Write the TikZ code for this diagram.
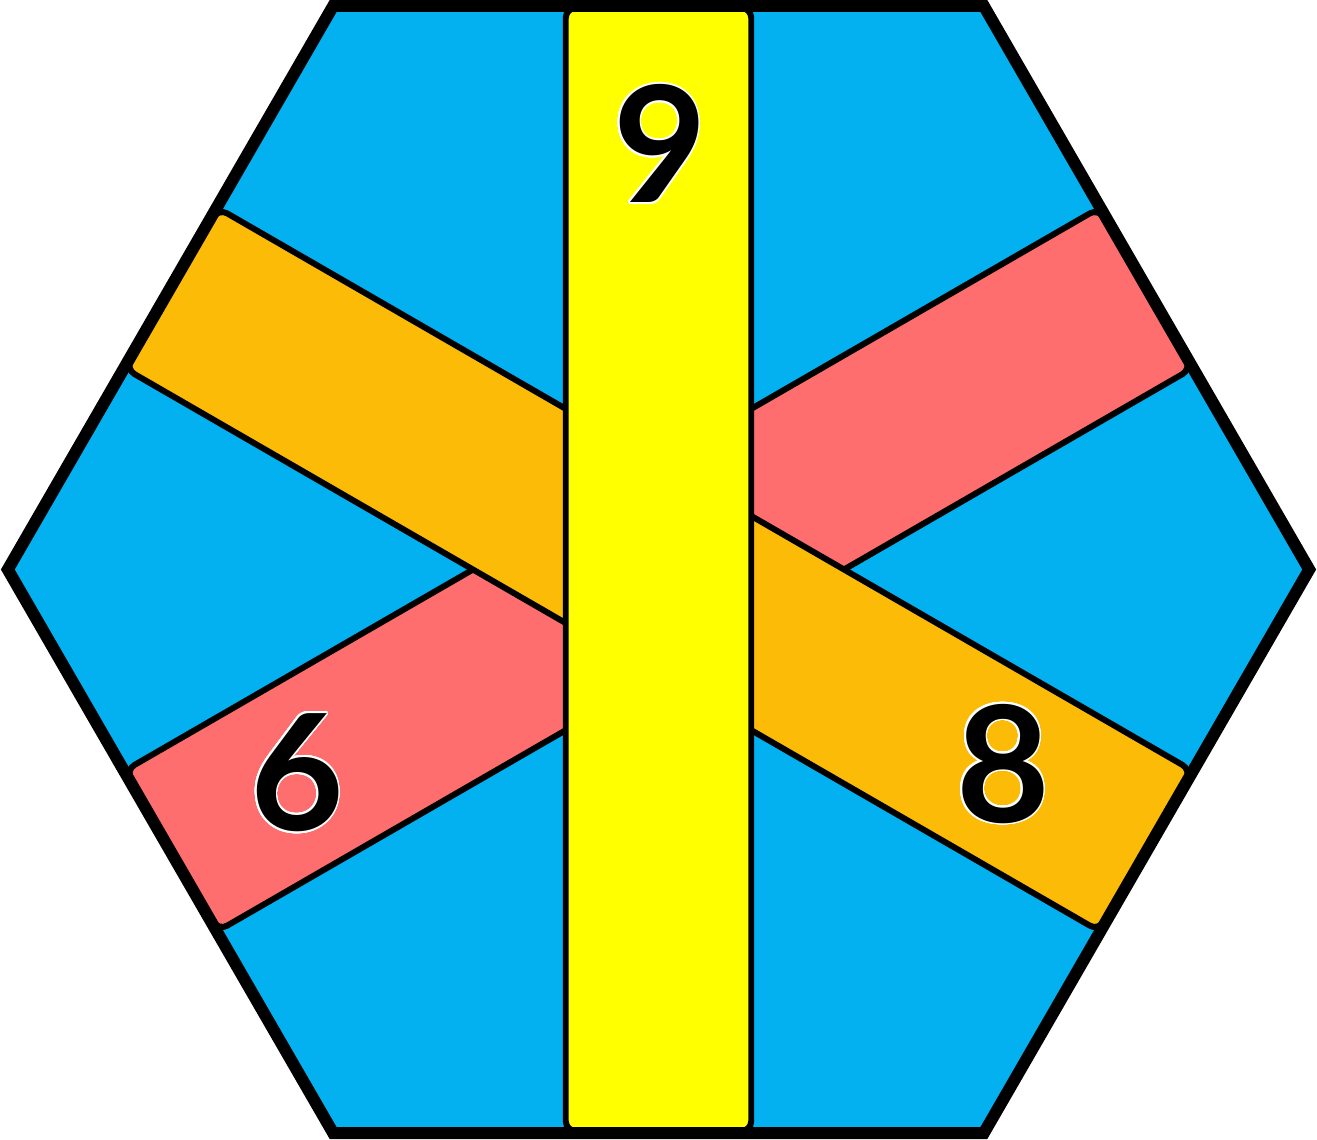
\documentclass[tikz,border=0pt]{standalone}
\usepackage{fontspec}
\usepackage{contour}
\newfontfamily\digitfont{Lato}
\contourlength{0.5pt}
\contournumber{32}

\definecolor{hexblue}{RGB}{3,176,240}
\definecolor{stripyellow}{RGB}{255,255,0}
\definecolor{striporange}{RGB}{252,187,6}
\definecolor{stripred}{RGB}{255,110,110}

\begin{document}
\begin{tikzpicture}[
  strip/.style={draw=black, line width=1.7pt, rounded corners=0.1cm},
  digit/.style={inner sep=0pt, text=black, font=\digitfont\bfseries\fontsize{46}{46}\selectfont}
]

  \useasboundingbox (-6.585,-5.695) rectangle (6.585,5.695);

  % -- Hexagon background --
  \fill[hexblue] (0:6.507) -- (60:6.507) -- (120:6.507) -- (180:6.507) -- (240:6.507) -- (300:6.507) -- cycle;

  % -- Strips (red under orange under yellow) --
  \draw[strip, fill=stripred, rotate=30] (-5.615,-0.9275) -- (5.615,-0.9275) -- (5.615,0.9275) -- (-5.615,0.9275) -- cycle;
  \draw[strip, fill=striporange, rotate=-30] (-5.615,-0.9275) -- (5.615,-0.9275) -- (5.615,0.9275) -- (-5.615,0.9275) -- cycle;
  \draw[strip, fill=stripyellow] (-0.9275,-5.615) -- (0.9275,-5.615) -- (0.9275,5.615) -- (-0.9275,5.615) -- cycle;

  % -- Hexagon outline --
  \draw[line width=3.4pt, line join=miter] (0:6.507) -- (60:6.507) -- (120:6.507) -- (180:6.507) -- (240:6.507) -- (300:6.507) -- cycle;

  % -- Numbers --
  \node[digit] (nine) at (0.015,4.25) {\contour{white}{9}};
  \node[digit] (six) at (-3.615,-2.04) {\contour{white}{6}};
  \node[digit] (eight) at (3.445,-1.95) {\contour{white}{8}};

\end{tikzpicture}
\end{document}
